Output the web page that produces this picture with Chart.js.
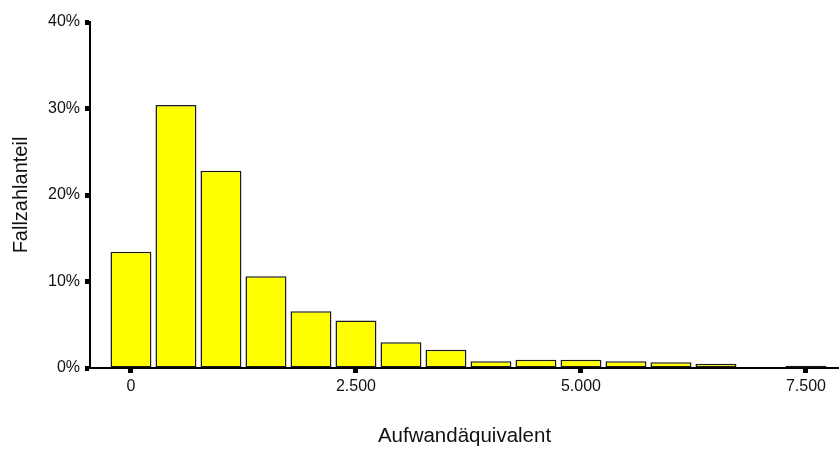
<!DOCTYPE html>
<html>
<head>
<meta charset="utf-8">
<script src="https://cdn.jsdelivr.net/npm/chart.js@4/dist/chart.umd.min.js"></script>
<style>
  html, body { margin: 0; padding: 0; background: #ffffff; }
  #wrap { width: 839px; height: 450px; }
</style>
</head>
<body>
<div id="wrap"><canvas id="chart" width="839" height="450"></canvas></div>
<script>
// Histogram bins (bin centres, width 500) and share of cases in percent
const binCenters = [0, 500, 1000, 1500, 2000, 2500, 3000, 3500, 4000, 4500, 5000, 5500, 6000, 6500, 7000, 7500];
const caseShare  = [13.45, 30.4, 22.8, 10.6, 6.55, 5.5, 2.97, 2.1, 0.77, 0.96, 0.96, 0.77, 0.66, 0.5, null, 0.25];
const xTickValues = [0, 2500, 5000, 7500];
const yTickValues = [0, 10, 20, 30, 40];

const FONT = "Arial, 'Liberation Sans', Helvetica, sans-serif";

function deNumber(v) {
  return String(Math.round(v)).replace(/\B(?=(\d{3})+(?!\d))/g, '.');
}

const points = binCenters.map((x, i) => ({ x: x, y: caseShare[i] }));

new Chart(document.getElementById('chart'), {
  type: 'bar',
  data: {
    datasets: [{
      data: points,
      backgroundColor: '#ffff00',
      borderColor: '#1a1a1a',
      borderWidth: 1.5,
      borderSkipped: false,
      categoryPercentage: 1.0,
      barPercentage: 0.91
    }]
  },
  options: {
    responsive: false,
    animation: false,
    layout: { padding: { top: 22, right: 0, bottom: 0, left: 0 } },
    plugins: { legend: { display: false }, tooltip: { enabled: false } },
    scales: {
      x: {
        type: 'linear',
        offset: false,
        min: -455,
        max: 7867,
        afterFit: (s) => { s.height = 82; },
        afterBuildTicks: (s) => { s.ticks = xTickValues.map(v => ({ value: v })); },
        ticks: {
          includeBounds: false,
          stepSize: 2500,
          padding: 4,
          color: '#111111',
          font: { family: FONT, size: 16 },
          maxRotation: 0,
          callback: (v) => deNumber(v)
        },
        grid: {
          offset: false,
          drawOnChartArea: false,
          drawTicks: true,
          tickLength: 5,
          tickWidth: 5,
          tickColor: '#000000'
        },
        border: { display: true, color: '#000000', width: 2 },
        title: {
          display: true,
          text: 'Aufwandäquivalent',
          color: '#111111',
          font: { family: FONT, size: 20.5 },
          padding: { top: 0, bottom: 1 }
        }
      },
      y: {
        min: 0,
        max: 40,
        afterFit: (s) => { s.width = 90; },
        afterBuildTicks: (s) => { s.ticks = yTickValues.map(v => ({ value: v })); },
        ticks: {
          includeBounds: false,
          stepSize: 10,
          padding: 5,
          color: '#111111',
          font: { family: FONT, size: 16 },
          callback: (v) => v + '%'
        },
        grid: {
          drawOnChartArea: false,
          drawTicks: true,
          tickLength: 5,
          tickWidth: 5,
          tickColor: '#000000'
        },
        border: { display: true, color: '#000000', width: 2 },
        title: {
          display: true,
          text: 'Fallzahlanteil',
          color: '#111111',
          font: { family: FONT, size: 20 },
          padding: { top: 9, bottom: 0 }
        }
      }
    }
  }
});
</script>
</body>
</html>
